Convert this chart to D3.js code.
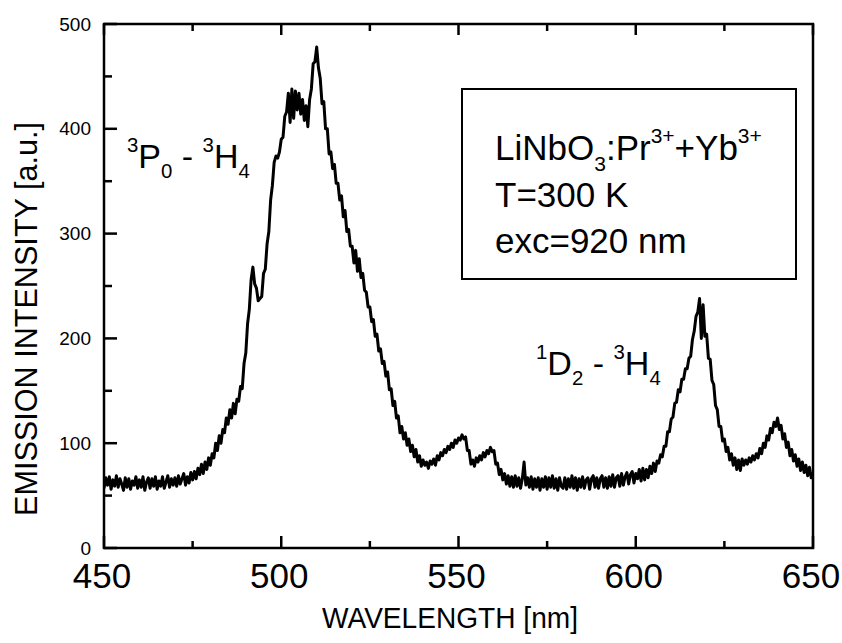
<!DOCTYPE html>
<html>
<head>
<meta charset="utf-8">
<script src="https://cdn.jsdelivr.net/npm/d3@7"></script>
<style>
  body { margin: 0; background: #fff; }
  svg text { font-family: "Liberation Sans", Arial, sans-serif; fill: #000; }
</style>
</head>
<body>
<script>
const wavelengthStart = 450;
const wavelengthStep = 0.5;
const intensity = [
  57, 67, 60, 68, 56, 65, 59, 69, 58, 66,       // 450
  61, 55, 67, 58, 66, 56, 64, 60, 68, 57,       // 455
  65, 58, 68, 55, 63, 67, 57, 66, 59, 68,       // 460
  56, 64, 59, 68, 57, 63, 69, 58, 66, 60,       // 465
  67, 59, 69, 61, 66, 71, 60, 68, 62, 72,       // 470
  65, 73, 66, 76, 70, 80, 71, 82, 75, 86,       // 475
  79, 90, 86, 100, 93, 107, 100, 113, 110, 124, // 480
  118, 132, 124, 138, 128, 142, 140, 154, 152, 176, // 485
  186, 214, 228, 256, 268, 252, 248, 236, 238, 240, // 490
  262, 266, 290, 302, 332, 346, 368, 374, 372, 378, // 495
  390, 392, 412, 416, 434, 406, 438, 410, 436, 418, // 500
  434, 414, 428, 408, 422, 402, 428, 438, 462, 464, // 505
  478, 458, 448, 424, 426, 400, 400, 376, 378, 362, // 510
  366, 348, 348, 332, 336, 316, 322, 302, 304, 288, // 515
  288, 272, 284, 264, 276, 258, 262, 246, 244, 230, // 520
  230, 216, 218, 202, 204, 188, 190, 176, 178, 164, // 525
  168, 151, 152, 136, 140, 124, 126, 110, 116, 104, // 530
  110, 98, 104, 92, 98, 87, 94, 82, 88, 78,     // 535
  84, 79, 82, 76, 83, 80, 85, 79, 88, 84,       // 540
  91, 88, 94, 91, 97, 94, 100, 96, 103, 100,    // 545
  105, 103, 108, 104, 106, 93, 93, 80, 84, 78,  // 550
  86, 82, 88, 84, 91, 87, 93, 90, 96, 92,       // 555
  93, 80, 81, 70, 75, 65, 71, 61, 69, 59,       // 560
  68, 58, 69, 59, 67, 57, 66, 82, 60, 67,       // 565
  58, 68, 56, 66, 58, 67, 55, 66, 58, 68,       // 570
  56, 67, 58, 69, 57, 66, 55, 67, 59, 57,       // 575
  67, 56, 66, 58, 69, 57, 67, 55, 66, 58,       // 580
  68, 57, 65, 67, 56, 66, 69, 58, 67, 57,       // 585
  66, 69, 58, 67, 57, 68, 59, 70, 58, 67,       // 590
  69, 59, 71, 60, 68, 72, 61, 70, 73, 62,       // 595
  71, 66, 75, 64, 76, 65, 75, 67, 78, 71,       // 600
  81, 73, 83, 81, 89, 87, 97, 97, 111, 111,     // 605
  123, 125, 138, 139, 151, 149, 161, 161, 171, 171, // 610
  181, 183, 199, 207, 221, 225, 238, 200, 232, 202, // 615
  204, 181, 180, 160, 156, 136, 132, 116, 116, 102, // 620
  104, 92, 96, 84, 90, 79, 86, 75, 84, 74,      // 625
  85, 79, 84, 80, 86, 82, 88, 84, 90, 86,       // 630
  95, 90, 100, 96, 107, 103, 114, 110, 120, 116, // 635
  124, 113, 117, 104, 109, 96, 101, 88, 94, 83, // 640
  89, 78, 85, 74, 82, 72, 79, 69, 77, 67,       // 645
  72                                            // 650
];

const xMajorTicks = [450, 500, 550, 600, 650];
const xMinorTicks = [475, 525, 575, 625];
const yMajorTicks = [0, 100, 200, 300, 400, 500];
const yMinorTicks = [50, 150, 250, 350, 450];

const xTitle = "WAVELENGTH [nm]";
const yTitle = "EMISSION INTENSITY [a.u.]";

// rich text pieces: s = "sup" | "sub" | undefined
const labelP0 = [{t: "3", s: "sup"}, {t: "P"}, {t: "0", s: "sub"}, {t: " - "}, {t: "3", s: "sup"}, {t: "H"}, {t: "4", s: "sub"}];
const labelD2 = [{t: "1", s: "sup"}, {t: "D"}, {t: "2", s: "sub"}, {t: " - "}, {t: "3", s: "sup"}, {t: "H"}, {t: "4", s: "sub"}];
const legendLines = [
  [{t: "LiNbO"}, {t: "3", s: "sub"}, {t: ":Pr"}, {t: "3+", s: "sup"}, {t: "+Yb"}, {t: "3+", s: "sup"}],
  [{t: "T=300 K"}],
  [{t: "exc=920 nm"}]
];

const data = intensity.map((v, i) => ({wl: wavelengthStart + i * wavelengthStep, v: v}));

const W = 842, H = 643;
const plot = {left: 104, right: 813, top: 24, bottom: 548};

const svg = d3.select("body").append("svg")
  .attr("width", W).attr("height", H);

const x = d3.scaleLinear().domain([450, 650]).range([plot.left, plot.right]);
const y = d3.scaleLinear().domain([0, 500]).range([plot.bottom, plot.top]);

// curve
svg.append("clipPath").attr("id", "clip")
  .append("rect").attr("x", plot.left).attr("y", plot.top)
  .attr("width", plot.right - plot.left).attr("height", plot.bottom - plot.top);

svg.append("path")
  .datum(data)
  .attr("clip-path", "url(#clip)")
  .attr("fill", "none")
  .attr("stroke", "#000")
  .attr("stroke-width", 3)
  .attr("stroke-linejoin", "round")
  .attr("d", d3.line().x(d => x(d.wl)).y(d => y(d.v)));

// frame
svg.append("rect")
  .attr("x", plot.left).attr("y", plot.top)
  .attr("width", plot.right - plot.left).attr("height", plot.bottom - plot.top)
  .attr("fill", "none").attr("stroke", "#000").attr("stroke-width", 2.5);

// ticks, all pointing into the frame
const tickG = svg.append("g");
function xTicks(values, yPos, len) {
  values.forEach(v => {
    tickG.append("line")
      .attr("x1", x(v)).attr("x2", x(v))
      .attr("y1", yPos).attr("y2", yPos + len)
      .attr("stroke", "#000").attr("stroke-width", 2.5);
  });
}
function yTicks(values, len) {
  values.forEach(v => {
    tickG.append("line")
      .attr("x1", plot.left).attr("x2", plot.left + len)
      .attr("y1", y(v)).attr("y2", y(v))
      .attr("stroke", "#000").attr("stroke-width", 2.5);
  });
}
xTicks(xMajorTicks, plot.bottom, -12);
xTicks(xMinorTicks, plot.bottom, -7);
xTicks(xMajorTicks, plot.top, 11);
xTicks(xMinorTicks, plot.top, 7);
yTicks(yMajorTicks, 13);
yTicks(yMinorTicks, 8);

// tick labels
svg.append("g").selectAll("text").data(xMajorTicks).join("text")
  .attr("x", d => x(d) - 2).attr("y", 588)
  .attr("text-anchor", "middle")
  .attr("font-size", 35)
  .text(d => d);

svg.append("g").selectAll("text").data(yMajorTicks).join("text")
  .attr("x", plot.left - 13).attr("y", d => y(d))
  .attr("dy", "0.35em")
  .attr("text-anchor", "end")
  .attr("font-size", 19)
  .text(d => d);

// axis titles
svg.append("text")
  .attr("x", 450).attr("y", 628)
  .attr("text-anchor", "middle")
  .attr("font-size", 29)
  .attr("textLength", 256).attr("lengthAdjust", "spacingAndGlyphs")
  .text(xTitle);

svg.append("text")
  .attr("transform", "translate(37,319) rotate(-90)")
  .attr("text-anchor", "middle")
  .attr("font-size", 31)
  .attr("textLength", 394).attr("lengthAdjust", "spacingAndGlyphs")
  .text(yTitle);

// rich text helper
function richText(parts, px, py, size) {
  const t = svg.append("text").attr("x", px).attr("y", py).attr("font-size", size);
  let shift = 0;
  parts.forEach(p => {
    const target = p.s === "sup" ? -0.48 * size : p.s === "sub" ? 0.3 * size : 0;
    t.append("tspan")
      .attr("dy", target - shift)
      .attr("font-size", p.s ? size * 0.6 : size)
      .text(p.t);
    shift = target;
  });
  return t;
}

richText(labelP0, 127, 168, 34);
richText(labelD2, 536, 375, 34);

// legend box
svg.append("rect")
  .attr("x", 462).attr("y", 89)
  .attr("width", 796 - 462).attr("height", 279 - 89)
  .attr("fill", "#fff").attr("stroke", "#000").attr("stroke-width", 2);

const legendBaselines = [160, 207, 253];
legendLines.forEach((parts, i) => richText(parts, 495, legendBaselines[i], 35));
</script>
</body>
</html>
